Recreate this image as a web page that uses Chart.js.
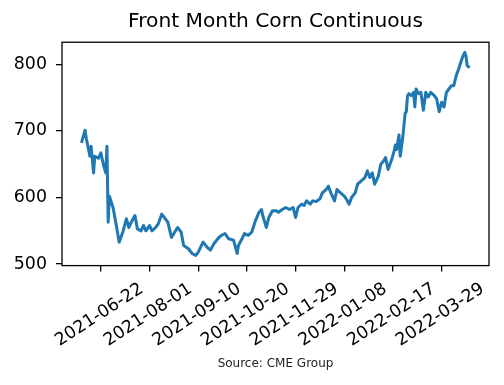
<!DOCTYPE html>
<html>
<head>
<meta charset="utf-8">
<script src="https://cdn.jsdelivr.net/npm/chart.js@4.4.1/dist/chart.umd.min.js"></script>
<style>
  html, body { margin: 0; padding: 0; background: #fff; }
</style>
</head>
<body>
<canvas id="corn-chart" width="504" height="385"></canvas>
<script>
// Front month corn futures, cents per bushel
const dates = [
  '2021-06-06', '2021-06-09', '2021-06-10', '2021-06-13', '2021-06-14', '2021-06-16', '2021-06-17', '2021-06-20',
  '2021-06-22', '2021-06-24', '2021-06-26', '2021-06-27', '2021-06-28', '2021-06-29', '2021-07-02', '2021-07-05',
  '2021-07-07', '2021-07-10', '2021-07-13', '2021-07-15', '2021-07-17', '2021-07-20', '2021-07-22', '2021-07-25',
  '2021-07-27', '2021-07-29', '2021-08-01', '2021-08-03', '2021-08-06', '2021-08-08', '2021-08-11', '2021-08-14',
  '2021-08-16', '2021-08-19', '2021-08-21', '2021-08-24', '2021-08-27', '2021-08-29', '2021-09-02', '2021-09-05',
  '2021-09-08', '2021-09-10', '2021-09-14', '2021-09-17', '2021-09-20', '2021-09-23', '2021-09-27', '2021-09-29',
  '2021-10-02', '2021-10-05', '2021-10-09', '2021-10-12', '2021-10-13', '2021-10-16', '2021-10-18', '2021-10-21',
  '2021-10-24', '2021-10-27', '2021-10-30', '2021-11-01', '2021-11-02', '2021-11-05', '2021-11-07', '2021-11-10',
  '2021-11-13', '2021-11-15', '2021-11-18', '2021-11-21', '2021-11-24', '2021-11-27', '2021-11-29', '2021-12-01',
  '2021-12-04', '2021-12-06', '2021-12-08', '2021-12-11', '2021-12-13', '2021-12-16', '2021-12-19', '2021-12-21',
  '2021-12-24', '2021-12-26', '2021-12-28', '2021-12-31', '2022-01-02', '2022-01-05', '2022-01-08', '2022-01-10',
  '2022-01-12', '2022-01-14', '2022-01-17', '2022-01-19', '2022-01-22', '2022-01-25', '2022-01-27', '2022-01-29',
  '2022-01-31', '2022-02-02', '2022-02-05', '2022-02-07', '2022-02-09', '2022-02-11', '2022-02-13', '2022-02-16',
  '2022-02-18', '2022-02-19', '2022-02-20', '2022-02-22', '2022-02-23', '2022-02-25', '2022-02-27', '2022-02-28',
  '2022-03-01', '2022-03-02', '2022-03-04', '2022-03-06', '2022-03-07', '2022-03-08', '2022-03-10', '2022-03-12',
  '2022-03-14', '2022-03-16', '2022-03-18', '2022-03-20', '2022-03-23', '2022-03-25', '2022-03-27', '2022-03-29',
  '2022-03-31', '2022-04-02', '2022-04-04', '2022-04-06', '2022-04-08', '2022-04-10', '2022-04-12', '2022-04-15',
  '2022-04-17', '2022-04-18', '2022-04-19', '2022-04-21'
];
const prices = [
  682, 701, 689, 662, 677, 637, 662, 659,
  667, 650, 637, 677, 563, 602, 585, 555,
  533, 548, 568, 555, 563, 573, 553, 550,
  558, 550, 558, 550, 555, 560, 575, 568,
  563, 540, 546, 555, 548, 528, 523, 516,
  513, 518, 533, 526, 521, 531, 540, 543,
  546, 538, 536, 516, 528, 538, 546, 543,
  548, 565, 578, 582, 573, 555, 570, 580,
  580, 578, 582, 585, 582, 585, 570, 585,
  590, 588, 595, 590, 595, 594, 598, 607,
  612, 617, 607, 595, 612, 607, 602, 597,
  590, 600, 607, 620, 625, 630, 640, 630,
  637, 620, 632, 650, 654, 660, 642, 657,
  670, 679, 672, 694, 662, 689, 726, 729,
  753, 756, 753, 758, 736, 763, 756, 758,
  731, 758, 751, 758, 753, 748, 729, 743,
  736, 758, 763, 768, 768, 783, 793, 810,
  818, 813, 798, 795
];
const xTickLabels = ['2021-06-22', '2021-08-01', '2021-09-10', '2021-10-20', '2021-11-29', '2022-01-08', '2022-02-17', '2022-03-29'];
const yTicks = [500, 600, 700, 800];

const FONT = "'DejaVu Sans', sans-serif";
const LINE_BLUE = '#1f77b4';

function toDay(s) {
  const [y, m, d] = s.split('-').map(Number);
  return Date.UTC(y, m - 1, d) / 86400000;
}

// matplotlib-style 5% margins around the data
function padRange(values) {
  const lo = Math.min(...values), hi = Math.max(...values);
  const pad = (hi - lo) * 0.05;
  return [lo - pad, hi + pad];
}

const points = dates.map((d, i) => ({ x: toDay(d), y: prices[i] }));
const [xMin, xMax] = padRange(points.map((p) => p.x));
const [yMin, yMax] = padRange(prices);

// box around the plot area (all four spines)
const framePlugin = {
  id: 'frame',
  afterDatasetsDraw(chart) {
    const { ctx, chartArea: a } = chart;
    ctx.save();
    ctx.strokeStyle = '#000';
    ctx.lineWidth = 1.3;
    ctx.strokeRect(a.left, a.top, a.right - a.left, a.bottom - a.top);
    ctx.restore();
  }
};

const tickGrid = { display: true, drawOnChartArea: false, drawTicks: true, tickLength: 6, color: '#000', lineWidth: 1.3 };

new Chart(document.getElementById('corn-chart'), {
  type: 'line',
  data: {
    datasets: [{
      data: points,
      borderColor: LINE_BLUE,
      borderWidth: 3,
      borderJoinStyle: 'round',
      pointRadius: 0,
      tension: 0,
      fill: false
    }]
  },
  options: {
    responsive: false,
    animation: false,
    layout: { padding: { left: 0, right: 15, top: 0, bottom: 0 } },
    scales: {
      x: {
        type: 'linear',
        min: xMin,
        max: xMax,
        border: { display: false },
        grid: tickGrid,
        afterBuildTicks: (scale) => { scale.ticks = xTickLabels.map((l) => ({ value: toDay(l) })); },
        afterFit: (scale) => {
          scale.height = 88;
          // rotated labels may hang left of the axis; don't let them push the plot
          scale.paddingLeft = 0;
          scale.paddingRight = 0;
        },
        ticks: {
          autoSkip: false,
          minRotation: 33,
          maxRotation: 33,
          labelOffset: 41,
          padding: 7,
          color: '#000',
          font: { family: FONT, size: 17.4 },
          callback: (value, index) => xTickLabels[index]
        }
      },
      y: {
        min: yMin,
        max: yMax,
        border: { display: false },
        grid: tickGrid,
        afterBuildTicks: (scale) => { scale.ticks = yTicks.map((v) => ({ value: v })); },
        afterFit: (scale) => { scale.width = 62; },
        ticks: {
          padding: 9,
          color: '#000',
          font: { family: FONT, size: 17.4 },
          callback: (value) => String(value)
        }
      }
    },
    plugins: {
      legend: { display: false },
      tooltip: { enabled: false },
      title: {
        display: true,
        text: 'Front Month Corn Continuous',
        color: '#000',
        fullSize: false,
        font: { family: FONT, size: 20.2, weight: 'normal' },
        padding: { top: 10, bottom: 8 }
      },
      subtitle: {
        display: true,
        position: 'bottom',
        text: 'Source: CME Group',
        color: '#222',
        fullSize: false,
        font: { family: FONT, size: 12 },
        padding: { top: 3, bottom: 14 }
      }
    }
  },
  plugins: [framePlugin]
});
</script>
</body>
</html>
